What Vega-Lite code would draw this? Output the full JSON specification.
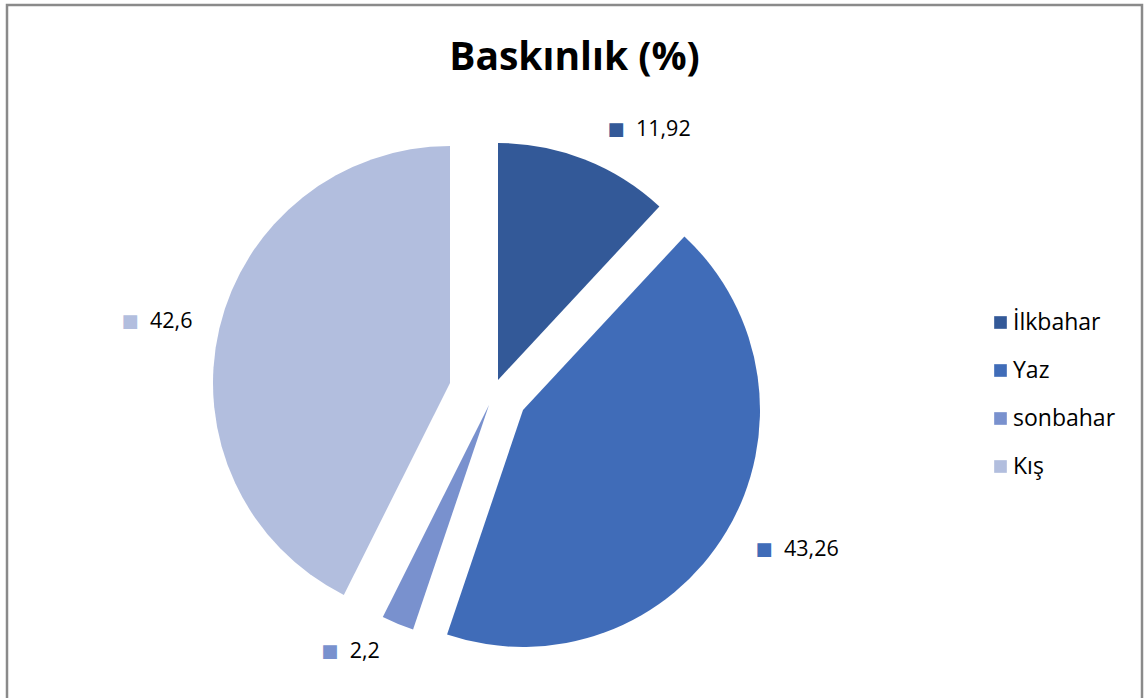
{
  "$schema": "https://vega.github.io/schema/vega-lite/v6.json",
  "autosize": "none",
  "width": 1135,
  "height": 700,
  "padding": {"left": 7, "top": 5, "right": 5, "bottom": 0},
  "background": "white",
  "view": {"stroke": "#8a8a8a", "strokeWidth": 2.5, "fill": "white"},
  "config": {
    "view": {"stroke": "#8a8a8a", "strokeWidth": 2.5},
    "font": "Open Sans"
  },
  "title": {
    "text": "Baskınlık (%)",
    "font": "Open Sans",
    "fontSize": 39,
    "fontWeight": "bold",
    "color": "#000000",
    "anchor": "middle",
    "frame": "group",
    "offset": -73
  },
  "data": {
    "values": [
      {"season": "İlkbahar", "value": 11.92, "label": "11,92", "order": 1},
      {"season": "Yaz", "value": 43.26, "label": "43,26", "order": 2},
      {"season": "sonbahar", "value": 2.2, "label": "2,2", "order": 3},
      {"season": "Kış", "value": 42.6, "label": "42,6", "order": 4}
    ]
  },
  "transform": [
    {"stack": "value", "groupby": [], "as": ["t0", "t1"], "sort": [{"field": "order", "order": "ascending"}]},
    {"calculate": "(datum.t0 + datum.t1) / 2", "as": "mid"}
  ],
  "encoding": {
    "color": {
      "field": "season",
      "type": "nominal",
      "scale": {
        "domain": ["İlkbahar", "Yaz", "sonbahar", "Kış"],
        "range": ["#335998", "#406CB8", "#7991CE", "#B2BEDE"]
      },
      "legend": {
        "title": null,
        "orient": "none",
        "legendX": 982,
        "legendY": 306,
        "padding": 0,
        "symbolType": "square",
        "symbolSize": 160,
        "symbolStrokeWidth": 0,
        "labelFont": "Open Sans",
        "labelFontSize": 23,
        "labelColor": "#000000",
        "labelOffset": 1,
        "rowPadding": 24
      }
    }
  },
  "layer": [
    {
      "transform": [{"filter": "datum.season === 'İlkbahar'"}],
      "mark": {"type": "arc", "radius": 237, "xOffset": -76.5, "yOffset": 25},
      "encoding": {
        "theta": {"field": "t0", "type": "quantitative", "stack": null, "scale": {"domain": [0, 99.98]}},
        "theta2": {"field": "t1"}
      }
    },
    {
      "transform": [{"filter": "datum.season === 'Yaz'"}],
      "mark": {"type": "arc", "radius": 237, "xOffset": -51.5, "yOffset": 55},
      "encoding": {
        "theta": {"field": "t0", "type": "quantitative", "stack": null, "scale": {"domain": [0, 99.98]}},
        "theta2": {"field": "t1"}
      }
    },
    {
      "transform": [{"filter": "datum.season === 'sonbahar'"}],
      "mark": {"type": "arc", "radius": 237, "xOffset": -85.5, "yOffset": 50},
      "encoding": {
        "theta": {"field": "t0", "type": "quantitative", "stack": null, "scale": {"domain": [0, 99.98]}},
        "theta2": {"field": "t1"}
      }
    },
    {
      "transform": [{"filter": "datum.season === 'Kış'"}],
      "mark": {"type": "arc", "radius": 237, "xOffset": -124.5, "yOffset": 28},
      "encoding": {
        "theta": {"field": "t0", "type": "quantitative", "stack": null, "scale": {"domain": [0, 99.98]}},
        "theta2": {"field": "t1"}
      }
    },
    {
      "transform": [{"filter": "datum.season === 'İlkbahar'"}],
      "layer": [
        {"mark": {"type": "text", "text": "■", "font": "DejaVu Sans", "fontSize": 18, "align": "center", "baseline": "middle", "radius": 280, "xOffset": -61, "yOffset": 35.5}},
        {"mark": {"type": "text", "fontSize": 21.5, "align": "left", "baseline": "middle", "radius": 280, "xOffset": -61, "yOffset": 35.5, "dx": 20}, "encoding": {"text": {"field": "label"}, "color": {"value": "#000000"}}}
      ],
      "encoding": {"theta": {"field": "mid", "type": "quantitative", "stack": null, "scale": {"domain": [0, 99.98]}}}
    },
    {
      "transform": [{"filter": "datum.season === 'Yaz'"}],
      "layer": [
        {"mark": {"type": "text", "text": "■", "font": "DejaVu Sans", "fontSize": 18, "align": "center", "baseline": "middle", "radius": 280, "xOffset": -51, "yOffset": 51.5}},
        {"mark": {"type": "text", "fontSize": 21.5, "align": "left", "baseline": "middle", "radius": 280, "xOffset": -51, "yOffset": 51.5, "dx": 20}, "encoding": {"text": {"field": "label"}, "color": {"value": "#000000"}}}
      ],
      "encoding": {"theta": {"field": "mid", "type": "quantitative", "stack": null, "scale": {"domain": [0, 99.98]}}}
    },
    {
      "transform": [{"filter": "datum.season === 'sonbahar'"}],
      "layer": [
        {"mark": {"type": "text", "text": "■", "font": "DejaVu Sans", "fontSize": 18, "align": "center", "baseline": "middle", "radius": 280, "xOffset": -137, "yOffset": 38.5}},
        {"mark": {"type": "text", "fontSize": 21.5, "align": "left", "baseline": "middle", "radius": 280, "xOffset": -137, "yOffset": 38.5, "dx": 20}, "encoding": {"text": {"field": "label"}, "color": {"value": "#000000"}}}
      ],
      "encoding": {"theta": {"field": "mid", "type": "quantitative", "stack": null, "scale": {"domain": [0, 99.98]}}}
    },
    {
      "transform": [{"filter": "datum.season === 'Kış'"}],
      "layer": [
        {"mark": {"type": "text", "text": "■", "font": "DejaVu Sans", "fontSize": 18, "align": "center", "baseline": "middle", "radius": 280, "xOffset": -172, "yOffset": 31.5}},
        {"mark": {"type": "text", "fontSize": 21.5, "align": "left", "baseline": "middle", "radius": 280, "xOffset": -172, "yOffset": 31.5, "dx": 20}, "encoding": {"text": {"field": "label"}, "color": {"value": "#000000"}}}
      ],
      "encoding": {"theta": {"field": "mid", "type": "quantitative", "stack": null, "scale": {"domain": [0, 99.98]}}}
    }
  ]
}
